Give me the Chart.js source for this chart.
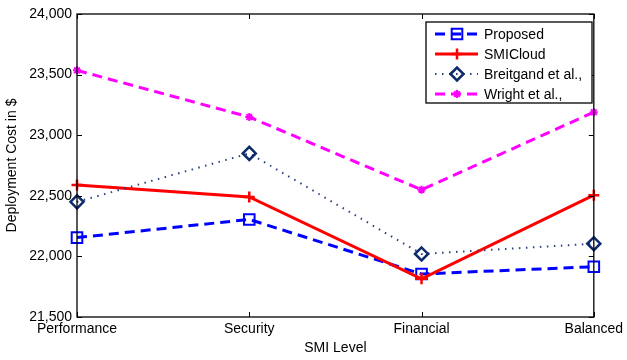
<!DOCTYPE html>
<html>
<head>
<meta charset="utf-8">
<script src="https://cdn.jsdelivr.net/npm/chart.js@4.4.1/dist/chart.umd.min.js"></script>
<style>
  html, body { margin: 0; padding: 0; background: #fff; }
  canvas { display: block; }
</style>
</head>
<body>
<canvas id="chart" width="627" height="360"></canvas>
<script>
// data
const smiLevels = ['Performance', 'Security', 'Financial', 'Balanced'];
const proposed = [22155, 22305, 21855, 21915];
const smiCloud = [22590, 22490, 21815, 22505];
const breitgand = [22450, 22850, 22020, 22105];
const wright = [23535, 23150, 22550, 23190];
const yTicks = [21500, 22000, 22500, 23000, 23500, 24000];

const FONT = 'Liberation Sans, Arial, Helvetica, sans-serif';

// matlab-like box with inward ticks
const boxPlugin = {
    id: 'box',
    afterDatasetsDraw(chart) {
        const { ctx, chartArea: a, scales } = chart;
        ctx.save();
        ctx.strokeStyle = '#000';
        ctx.lineWidth = 1.3;
        ctx.strokeRect(a.left, a.top, a.right - a.left, a.bottom - a.top);
        ctx.lineWidth = 1;
        for (const v of yTicks) {
            const y = Math.round(scales.y.getPixelForValue(v)) + 0.5;
            ctx.beginPath();
            ctx.moveTo(a.left, y); ctx.lineTo(a.left + 5, y);
            ctx.moveTo(a.right, y); ctx.lineTo(a.right - 5, y);
            ctx.stroke();
        }
        smiLevels.forEach((_, i) => {
            const x = Math.round(scales.x.getPixelForValue(i)) + 0.5;
            ctx.beginPath();
            ctx.moveTo(x, a.bottom); ctx.lineTo(x, a.bottom - 5);
            ctx.moveTo(x, a.top); ctx.lineTo(x, a.top + 5);
            ctx.stroke();
        });
        ctx.restore();
    }
};

// boxed legend with line + marker samples
const legendPlugin = {
    id: 'boxLegend',
    afterDraw(chart) {
        const ctx = chart.ctx;
        const left = 426, top = 22, w = 166, h = 81;
        ctx.save();
        ctx.fillStyle = '#fff';
        ctx.fillRect(left, top, w, h);
        ctx.strokeStyle = '#000';
        ctx.lineWidth = 1.3;
        ctx.strokeRect(left, top, w, h);
        ctx.font = '14px ' + FONT;
        ctx.textBaseline = 'middle';
        chart.data.datasets.forEach((ds, i) => {
            const y = 34 + i * 20;
            ctx.save();
            ctx.strokeStyle = ds.borderColor;
            ctx.lineWidth = ds.borderWidth;
            ctx.setLineDash(ds.borderDash || []);
            ctx.beginPath();
            ctx.moveTo(435, y); ctx.lineTo(478, y);
            ctx.stroke();
            ctx.setLineDash([]);
            ctx.strokeStyle = ds.pointBorderColor;
            ctx.fillStyle = ds.pointBackgroundColor;
            ctx.lineWidth = ds.pointBorderWidth;
            Chart.helpers.drawPoint(ctx, {
                pointStyle: ds.pointStyle,
                radius: ds.pointRadius,
                borderWidth: ds.pointBorderWidth
            }, 457, y);
            ctx.restore();
            ctx.fillStyle = '#000';
            ctx.fillText(ds.label, 484, y + 1);
        });
        ctx.restore();
    }
};

const whiteBg = {
    id: 'whiteBg',
    beforeDraw(chart) {
        const ctx = chart.ctx;
        ctx.save();
        ctx.fillStyle = '#fff';
        ctx.fillRect(0, 0, chart.width, chart.height);
        ctx.restore();
    }
};

new Chart(document.getElementById('chart'), {
    type: 'line',
    data: {
        labels: smiLevels,
        datasets: [
            {
                label: 'Proposed', data: proposed, order: 4,
                borderColor: '#0000ff', borderWidth: 3, borderDash: [10, 6],
                pointStyle: 'rect', pointRadius: 7.5, pointBorderWidth: 2,
                pointBorderColor: '#0000ff', pointBackgroundColor: 'rgba(255,255,255,0)'
            },
            {
                label: 'SMICloud', data: smiCloud, order: 3,
                borderColor: '#ff0000', borderWidth: 3,
                pointStyle: 'cross', pointRadius: 5.5, pointBorderWidth: 2.5,
                pointBorderColor: '#ff0000', pointBackgroundColor: '#ff0000'
            },
            {
                label: 'Breitgand et al.,', data: breitgand, order: 2,
                borderColor: '#2a4080', borderWidth: 2, borderDash: [1.5, 5.5],
                pointStyle: 'rectRot', pointRadius: 6.5, pointBorderWidth: 2.5,
                pointBorderColor: '#0d2a6b', pointBackgroundColor: 'rgba(255,255,255,0)'
            },
            {
                label: 'Wright et al.,', data: wright, order: 1,
                borderColor: '#ff00ff', borderWidth: 3, borderDash: [10, 6],
                pointStyle: 'star', pointRadius: 4, pointBorderWidth: 2,
                pointBorderColor: '#ff00ff', pointBackgroundColor: '#ff00ff'
            }
        ]
    },
    options: {
        responsive: false,
        animation: false,
        layout: { padding: { left: 0, top: 14, right: 30, bottom: 0 } },
        plugins: {
            legend: { display: false },
            tooltip: { enabled: false }
        },
        elements: { line: { tension: 0 } },
        scales: {
            x: {
                offset: false,
                grid: { display: false, drawTicks: false, tickLength: 0 },
                border: { display: false },
                ticks: { color: '#000', padding: 4, maxRotation: 0, autoSkip: false, font: { family: FONT, size: 14 } },
                title: { display: true, text: 'SMI Level', color: '#000', padding: { top: 0, bottom: 3 }, font: { family: FONT, size: 14 } },
                afterFit(s) { s.height = 43; }
            },
            y: {
                min: 21500, max: 24000,
                grid: { display: false, drawTicks: false, tickLength: 0 },
                border: { display: false },
                afterBuildTicks(s) { s.ticks = yTicks.map(v => ({ value: v })); },
                ticks: {
                    color: '#000', padding: 5, font: { family: FONT, size: 14 },
                    callback: v => v.toLocaleString('en-US')
                },
                title: { display: true, text: 'Deployment Cost in $', color: '#000', padding: { top: 4, bottom: 0 }, font: { family: FONT, size: 14 } },
                afterFit(s) { s.width = 77; }
            }
        }
    },
    plugins: [whiteBg, boxPlugin, legendPlugin]
});
</script>
</body>
</html>
